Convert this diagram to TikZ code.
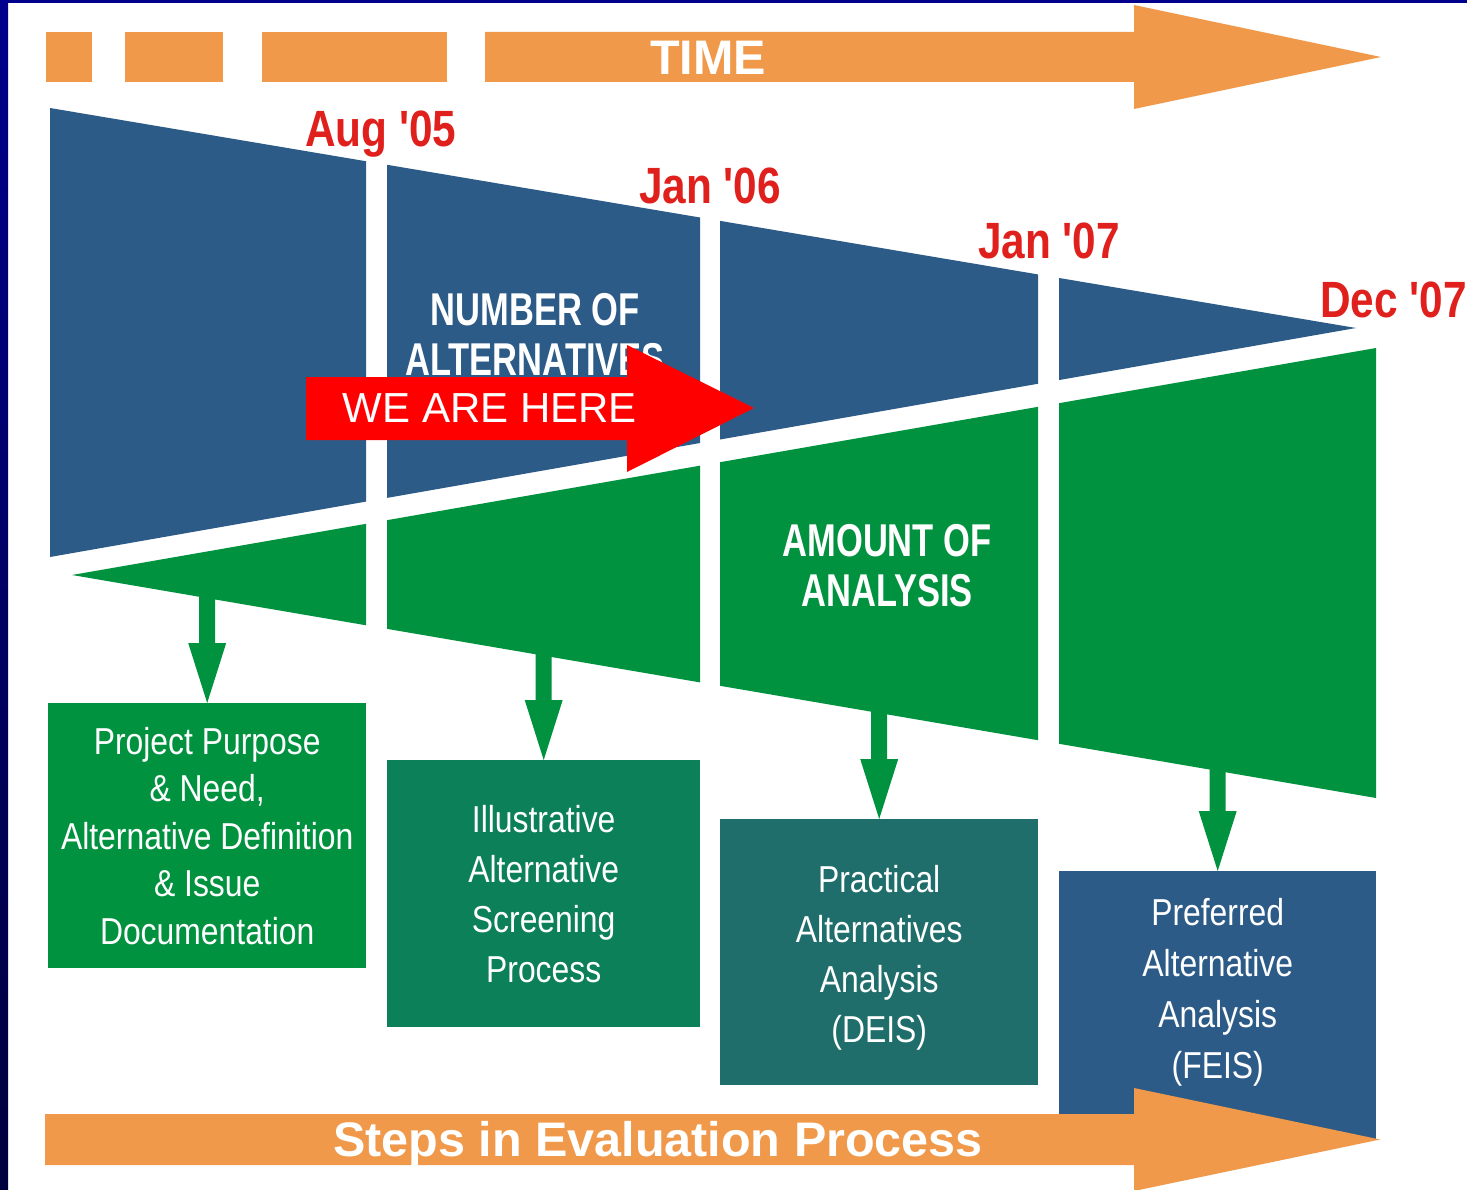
\documentclass[tikz,border=0pt]{standalone}
\usepackage{fontspec}
\setmainfont{Liberation Sans}
\newfontfamily\datefont[FakeStretch=0.83,Ligatures=TeXOff]{Liberation Sans}
\newfontfamily\condfont[FakeStretch=0.85]{Liberation Sans}
\newfontfamily\headfont[FakeStretch=0.75]{Liberation Sans}
\usetikzlibrary{calc}
\definecolor{bandblue}{RGB}{45,91,135}
\definecolor{bandgreen}{RGB}{0,146,63}
\definecolor{tealA}{RGB}{12,128,89}
\definecolor{tealB}{RGB}{31,110,107}
\definecolor{orangeC}{RGB}{240,153,74}
\definecolor{dateRed}{RGB}{224,32,28}
\definecolor{frameNavy}{RGB}{0,0,140}
\definecolor{frameDark}{RGB}{0,0,60}
\begin{document}
\begin{tikzpicture}[x=1pt,y=-1pt,
  boxnode/.style={draw=none, inner sep=0pt, anchor=north west, text=white, align=center,
    font=\condfont\fontsize{37.5}{47.5}\selectfont},
  datelabel/.style={anchor=base west, text=dateRed, inner sep=0pt,
    font=\datefont\bfseries\fontsize{51}{53}\selectfont},
  headlabel/.style={text=white, align=center, inner sep=0pt,
    font=\headfont\bfseries\fontsize{46}{50}\selectfont},
  banner/.style={text=white, inner sep=0pt, anchor=base,
    font=\bfseries\fontsize{48.5}{50}\selectfont}]
\useasboundingbox (0,0) rectangle (1467,1190);
\fill[white] (0,0) rectangle (1467,1190);
% frame
\shade[top color=frameNavy, bottom color=frameDark] (0,0) rectangle (8,1190);
\fill[frameNavy] (0,0) rectangle (1467,3);

% TIME arrow (dashed start)
\fill[orangeC] (46,32) rectangle (92,82);
\fill[orangeC] (125,32) rectangle (223,82);
\fill[orangeC] (262,32) rectangle (447,82);
\fill[orangeC] (485,32) -- (1134,32) -- (1134,5) -- (1381,57) -- (1134,109) -- (1134,82) -- (485,82) -- cycle;
\node[banner] (time) at (708,75) {TIME};

% bands: number of alternatives (blue) and amount of analysis (green)
\foreach \a/\b in {50/366, 387/700, 720/1038, 1059/1376}{
  \begin{scope}
    \clip (\a,0) rectangle (\b,1190);
    \fill[bandblue] (50,108) -- (1356,328) -- (50,557) -- cycle;
    \fill[bandgreen] (72,575) -- (1376,348) -- (1376,798) -- cycle;
  \end{scope}
}

% dates
\node[datelabel] (aug05) at (305,147) {Aug '05};
\node[datelabel] (jan06) at (639,204) {Jan '06};
\node[datelabel] (jan07) at (978,259) {Jan '07};
\node[datelabel] (dec07) at (1320,317) {Dec '07};

% band labels
\node[headlabel] (numalt) at (535,334.5) {NUMBER OF\\ALTERNATIVES};
\node[headlabel] (amount) at (887,565.5) {AMOUNT OF\\ANALYSIS};

% step boxes
\node[boxnode, fill=bandgreen, minimum width=318pt, minimum height=265pt] (b1) at (48,703)
  {Project Purpose\\\& Need,\\Alternative Definition\\\& Issue\\Documentation};
\node[boxnode, fill=tealA, minimum width=313pt, minimum height=267pt,
  font=\condfont\fontsize{37.5}{50}\selectfont] (b2) at (387,760)
  {Illustrative\\Alternative\\Screening\\Process};
\node[boxnode, fill=tealB, minimum width=318pt, minimum height=266pt,
  font=\condfont\fontsize{37.5}{50}\selectfont] (b3) at (720,819)
  {\rule{0pt}{38pt}Practical\\Alternatives\\Analysis\\(DEIS)};
\fill[bandblue] (1059,1100) rectangle (1376,1140);
\node[boxnode, fill=bandblue, minimum width=317pt, minimum height=242pt,
  font=\condfont\fontsize{37.5}{51}\selectfont] (b4) at (1059,871)
  {Preferred\\Alternative\\Analysis\\(FEIS)};

% down arrows from the green band to the boxes
\coordinate (s1) at (b1.north |- 0,590);
\coordinate (s2) at (b2.north |- 0,650);
\coordinate (s3) at (b3.north |- 0,705);
\coordinate (s4) at (b4.north |- 0,765);
\foreach \s/\b in {s1/b1, s2/b2, s3/b3, s4/b4}{
  \fill[bandgreen] let \p1=(\s), \p2=(\b.north) in
    (\x1-8pt,\y1) -- (\x1+8pt,\y1) -- (\x1+8pt,\y2+60pt) -- (\x1+19pt,\y2+60pt)
    -- (\x2,\y2) -- (\x1-19pt,\y2+60pt) -- (\x1-8pt,\y2+60pt) -- cycle;
}

% steps arrow
\fill[orangeC] (45,1114) -- (1134,1114) -- (1134,1088) -- (1380,1139.5) -- (1134,1191) -- (1134,1165) -- (45,1165) -- cycle;
\node[banner] (steps) at (658,1156) {Steps in Evaluation Process};

% we are here
\fill[red] (306,377) -- (627,377) -- (627,345) -- (754,408) -- (627,472) -- (627,440) -- (306,440) -- cycle;
\node[text=white, inner sep=0pt, font=\fontsize{42}{44}\selectfont] (here) at (490,408) {WE ARE HERE};
\end{tikzpicture}
\end{document}
